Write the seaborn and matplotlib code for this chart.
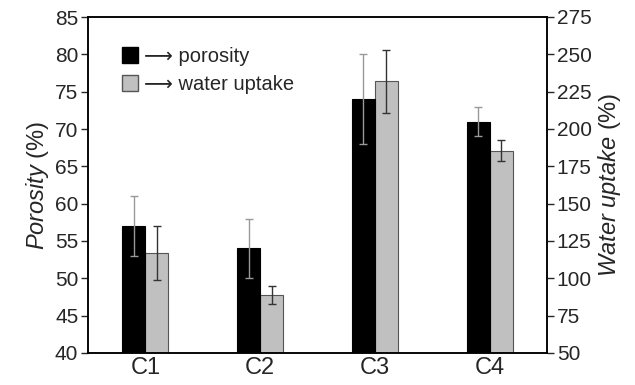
import matplotlib
matplotlib.use("Agg")
import matplotlib.pyplot as plt
import seaborn as sns
import pandas as pd
import numpy as np

categories = ["C1", "C2", "C3", "C4"]
porosity = [57, 54, 74, 71]
porosity_err = [4, 4, 6, 2]
water_uptake = [117, 89, 232, 185.5]
water_err = [18, 6, 21, 7]
left_ticks = [40, 45, 50, 55, 60, 65, 70, 75, 80, 85]
right_ticks = [50, 75, 100, 125, 150, 175, 200, 225, 250, 275]

sns.set_theme(style="ticks")
plt.rcParams['font.family'] = ['Liberation Sans', 'DejaVu Sans']
plt.rcParams['mathtext.fontset'] = 'custom'
plt.rcParams['mathtext.it'] = 'Liberation Sans:italic'
plt.rcParams['mathtext.rm'] = 'Liberation Sans'

hue_order = ["porosity", "water uptake"]
df_p = pd.DataFrame({"cat": categories, "series": "porosity", "value": porosity})
df_w = pd.DataFrame({"cat": categories, "series": "water uptake", "value": water_uptake})
pal = {"porosity": "black", "water uptake": "#c0c0c0"}

fig = plt.figure(figsize=(6.35, 3.85), dpi=100)
ax = fig.add_axes([88/635, 1 - 353/385, (547-88)/635, (353-17)/385])
ax2 = ax.twinx()

sns.barplot(data=df_p, x="cat", y="value", hue="series", hue_order=hue_order,
            order=categories, palette=pal, dodge=True,
            width=0.4, edgecolor="black", linewidth=0.8, errorbar=None, ax=ax, legend=False)
sns.barplot(data=df_w, x="cat", y="value", hue="series", hue_order=hue_order,
            order=categories, palette=pal, dodge=True,
            width=0.4, edgecolor="#555555", linewidth=0.8, errorbar=None, ax=ax2, legend=False)

px = sorted([p.get_x() + p.get_width() / 2 for p in ax.patches if p.get_height() > 0])[:4]
wx = sorted([p.get_x() + p.get_width() / 2 for p in ax2.patches if p.get_height() > 0])[:4]
ax.errorbar(px, porosity, yerr=porosity_err, fmt="none", ecolor="#999999",
            elinewidth=1.0, capsize=3, capthick=1.0, zorder=5)
ax2.errorbar(wx, water_uptake, yerr=water_err, fmt="none", ecolor="#333333",
             elinewidth=1.0, capsize=3, capthick=1.0, zorder=5)

ax.set_xlim(-0.5, 3.5)
ax.set_ylim(40, 85)
ax2.set_ylim(50, 275)
ax.set_yticks(left_ticks)
ax2.set_yticks(right_ticks)
ax.tick_params(axis="y", labelsize=15, direction="out", length=5, width=1, pad=2)
ax2.tick_params(axis="y", labelsize=15, direction="out", length=5, width=1, pad=2)
ax.tick_params(axis="x", labelsize=17, length=0, pad=3)
ax.set_xlabel("")
ax.set_ylabel(r"$\it{Porosity}$ (%)", fontsize=17, labelpad=3)
ax2.set_ylabel(r"$\it{Water\ uptake}$ (%)", fontsize=17, labelpad=3)
for a in (ax, ax2):
    for s in a.spines.values():
        s.set_linewidth(1.1)
        s.set_color("black")
ax.set_zorder(ax2.get_zorder() + 1)
ax.patch.set_visible(False)

from matplotlib.patches import Patch
handles = [Patch(facecolor="black", edgecolor="black"),
           Patch(facecolor="#c0c0c0", edgecolor="#555555")]
ax.legend(handles, ["\u27f6 porosity", "\u27f6 water uptake"], loc="upper left",
          bbox_to_anchor=(0.035, 0.965), frameon=False, fontsize=14.5,
          handlelength=0.8, handleheight=0.8, handletextpad=0.3, labelspacing=0.45)

fig.savefig("out.png", dpi=100)
